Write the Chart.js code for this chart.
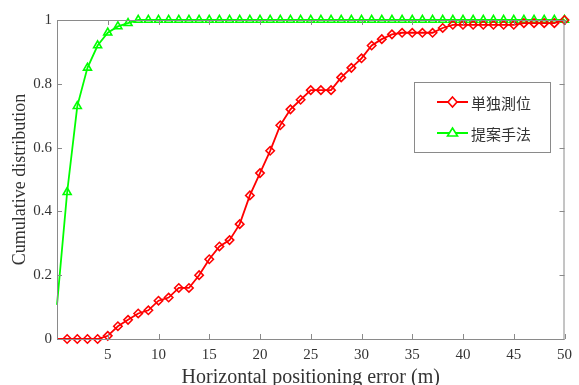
<!DOCTYPE html>
<html>
<head>
<meta charset="utf-8">
<script src="https://cdn.jsdelivr.net/npm/chart.js@4/dist/chart.umd.min.js"></script>
<style>
  html, body { margin: 0; padding: 0; background: #fff; }
  #wrap { width: 579px; height: 385px; }
</style>
</head>
<body>
<div id="wrap"><canvas id="cdf"></canvas></div>
<script>
// horizontal error (m)
const errorX = [0, 1, 2, 3, 4, 5, 6, 7, 8, 9, 10, 11, 12, 13, 14, 15, 16, 17, 18, 19, 20,
    21, 22, 23, 24, 25, 26, 27, 28, 29, 30, 31, 32, 33, 34, 35, 36, 37, 38, 39, 40,
    41, 42, 43, 44, 45, 46, 47, 48, 49, 50];

// 単独測位
const singleCdf = [0, 0, 0, 0, 0, 0.01, 0.04, 0.06, 0.08, 0.09, 0.12,
    0.13, 0.16, 0.16, 0.20, 0.25, 0.29, 0.31, 0.36, 0.45, 0.52,
    0.59, 0.67, 0.72, 0.75, 0.78, 0.78, 0.78, 0.82, 0.85, 0.88,
    0.92, 0.94, 0.955, 0.96, 0.96, 0.96, 0.96, 0.975, 0.985, 0.985,
    0.985, 0.985, 0.985, 0.985, 0.985, 0.99, 0.99, 0.99, 0.99, 1.0];

// 提案手法
const proposedCdf = [0.107, 0.46, 0.73, 0.85, 0.92, 0.96, 0.98, 0.99, 1, 1, 1,
    1, 1, 1, 1, 1, 1, 1, 1, 1, 1,
    1, 1, 1, 1, 1, 1, 1, 1, 1, 1,
    1, 1, 1, 1, 1, 1, 1, 1, 1, 1,
    1, 1, 1, 1, 1, 1, 1, 1, 1, 1];

const seriesNames = ["単独測位", "提案手法"];
const xTicks = [5, 10, 15, 20, 25, 30, 35, 40, 45, 50];
const yTicks = [0, 0.2, 0.4, 0.6, 0.8, 1];
const xTitle = "Horizontal positioning error (m)";
const yTitle = "Cumulative distribution";

const serif = "'Liberation Serif', 'Times New Roman', serif";
const axisGray = "#8a8a8a";
const textGray = "#333";

function toPoints(vals) {
    return errorX.map((x, i) => ({x: x, y: vals[i]}));
}
// no marker on the x=0 start point
function radii(r) {
    return errorX.map((x) => x === 0 ? 0 : r);
}

// inner ticks, box, axis titles, legend
const decorPlugin = {
    id: "decor",
    afterDraw(chart) {
        const ctx = chart.ctx;
        const a = chart.chartArea;
        const xs = chart.scales.x, ys = chart.scales.y;
        ctx.save();
        ctx.strokeStyle = axisGray;
        ctx.lineWidth = 1;
        ctx.strokeRect(a.left + 0.5, a.top + 0.5, a.right - a.left - 1, a.bottom - a.top);
        ctx.beginPath();
        xTicks.forEach(v => {
            const px = Math.round(xs.getPixelForValue(v)) + 0.5;
            ctx.moveTo(px, a.bottom); ctx.lineTo(px, a.bottom - 5);
            ctx.moveTo(px, a.top); ctx.lineTo(px, a.top + 5);
        });
        yTicks.forEach(v => {
            const py = Math.round(ys.getPixelForValue(v)) + 0.5;
            ctx.moveTo(a.left, py); ctx.lineTo(a.left + 5, py);
            ctx.moveTo(a.right, py); ctx.lineTo(a.right - 5, py);
        });
        ctx.stroke();

        // axis titles
        ctx.fillStyle = textGray;
        ctx.font = "20px " + serif;
        ctx.textAlign = "center";
        ctx.textBaseline = "alphabetic";
        ctx.fillText(xTitle, (a.left + a.right) / 2, 383);
        ctx.save();
        ctx.translate(25, (a.top + a.bottom) / 2);
        ctx.rotate(-Math.PI / 2);
        ctx.font = "18px " + serif;
        ctx.fillText(yTitle, 0, 0);
        ctx.restore();

        // legend box
        const bx = 414, by = 82, bw = 136, bh = 70;
        ctx.fillStyle = "#fff";
        ctx.fillRect(bx, by, bw, bh);
        ctx.strokeStyle = axisGray;
        ctx.strokeRect(bx + 0.5, by + 0.5, bw, bh);
        chart.data.datasets.forEach((ds, i) => {
            const y = i === 0 ? 102 : 133;
            ctx.strokeStyle = ds.borderColor;
            ctx.lineWidth = 2;
            ctx.beginPath();
            ctx.moveTo(437, y); ctx.lineTo(468, y);
            ctx.stroke();
            ctx.lineWidth = 1.6;
            ctx.beginPath();
            if (ds.pointStyle === "rectRot") {
                ctx.moveTo(452.5, y - 5); ctx.lineTo(457, y); ctx.lineTo(452.5, y + 5); ctx.lineTo(448, y);
            } else {
                ctx.moveTo(452.5, y - 5); ctx.lineTo(457.5, y + 3); ctx.lineTo(447.5, y + 3);
            }
            ctx.closePath();
            ctx.fillStyle = "#fff";
            ctx.fill();
            ctx.stroke();
            ctx.fillStyle = textGray;
            ctx.font = "15px 'Noto Sans CJK SC', sans-serif";
            ctx.textAlign = "left";
            ctx.textBaseline = "middle";
            ctx.fillText(ds.label, 471, y + 1);
        });
        ctx.restore();
    }
};

new Chart(document.getElementById("cdf").getContext("2d"), {
    type: "scatter",
    data: {
        datasets: [
            {
                label: seriesNames[0],
                data: toPoints(singleCdf),
                showLine: true,
                borderColor: "#ff0000",
                backgroundColor: "rgba(0,0,0,0)",
                borderWidth: 1.8,
                pointStyle: "rectRot",
                pointRadius: radii(4.2),
                pointBorderWidth: 1.6,
                clip: false
            },
            {
                label: seriesNames[1],
                data: toPoints(proposedCdf),
                showLine: true,
                borderColor: "#00ff00",
                backgroundColor: "rgba(0,0,0,0)",
                borderWidth: 1.8,
                pointStyle: "triangle",
                pointRadius: radii(4.6),
                pointBorderWidth: 1.6,
                clip: false
            }
        ]
    },
    options: {
        responsive: true,
        maintainAspectRatio: false,
        animation: false,
        layout: {padding: {left: 0, top: 20, right: 13, bottom: 0}},
        plugins: {
            legend: {display: false},
            tooltip: {enabled: false}
        },
        scales: {
            x: {
                type: "linear",
                min: 0,
                max: 50,
                afterFit: (s) => { s.height = 46; },
                afterBuildTicks: (s) => { s.ticks = xTicks.map(v => ({value: v})); },
                grid: {display: false, drawTicks: false},
                border: {display: false},
                ticks: {
                    padding: 7,
                    color: textGray,
                    font: {family: serif, size: 15},
                    maxRotation: 0,
                    autoSkip: false,
                    callback: (v) => String(v)
                }
            },
            y: {
                min: 0,
                max: 1,
                afterFit: (s) => { s.width = 57; },
                afterBuildTicks: (s) => { s.ticks = yTicks.map(v => ({value: v})); },
                grid: {display: false, drawTicks: false},
                border: {display: false},
                ticks: {
                    padding: 5,
                    color: textGray,
                    font: {family: serif, size: 15},
                    autoSkip: false,
                    callback: (v) => String(Math.round(v * 10) / 10)
                }
            }
        }
    },
    plugins: [decorPlugin]
});
</script>
</body>
</html>
